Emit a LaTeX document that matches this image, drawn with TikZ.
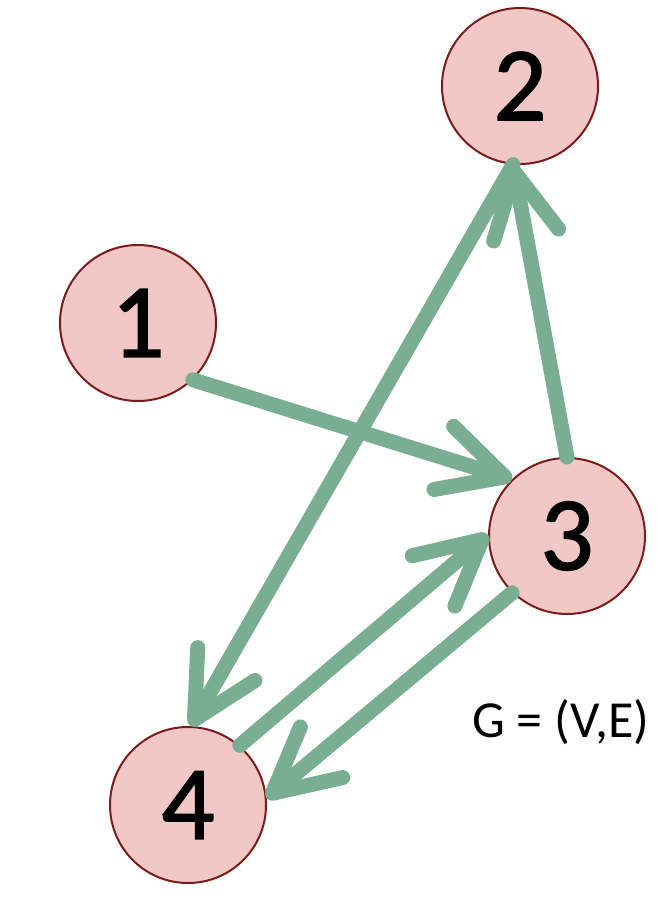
\documentclass[tikz,border=0pt]{standalone}
\usepackage{fontspec}
\setmainfont{Carlito}
\newfontfamily\digitfont{Carlito}[FakeBold=1.5]
\usetikzlibrary{arrows.meta}
\definecolor{edgegreen}{HTML}{7AAE92}
\definecolor{nodefill}{HTML}{F2C8C6}
\definecolor{nodeborder}{HTML}{7A1C1C}
\begin{document}
\begin{tikzpicture}[x=1pt,y=-1pt,
 vertex/.style={circle, draw=nodeborder, fill=nodefill, line width=2pt, minimum size=156pt, inner sep=0pt, font=\digitfont\fontsize{105}{105}\selectfont},
 edge/.style={draw=edgegreen, line width=15pt, line cap=round, -{Straight Barb[length=64pt,width=66pt,round]}},
 label/.style={font=\fontsize{52}{52}\selectfont, inner sep=0pt}]
\useasboundingbox (0,0) rectangle (666,910);
\node[vertex] (n1) at (138,323) {1};
\node[vertex] (n2) at (520,86) {2};
\node[vertex] (n3) at (567,536) {3};
\node[vertex] (n4) at (188,805) {4};
\node[label] (g) at (561,722) {G = (V,E)};
\draw[edge] (n1.-46) -- (n3.134.5);
\draw[edge] (n3.90) -- (n2.-95);
\draw[edge] (n2.-95) -- (n4.88);
\draw[edge] (n4.49) -- (n3.179);
\draw[edge] (n3.-134) -- (n4.5);
\end{tikzpicture}
\end{document}
